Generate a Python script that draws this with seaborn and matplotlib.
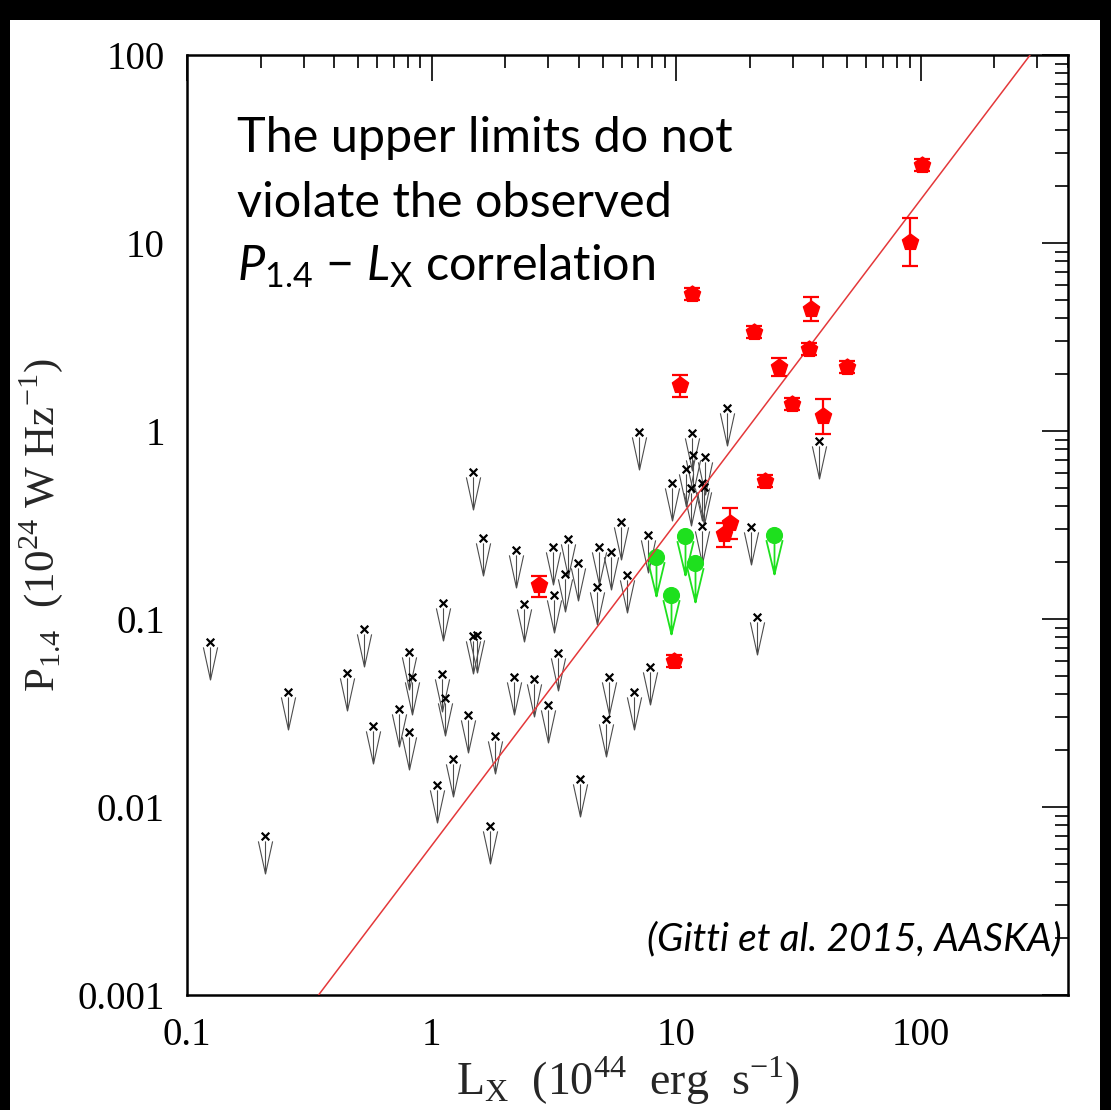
import numpy as np
import matplotlib
matplotlib.use("Agg")
import matplotlib.pyplot as plt
import seaborn as sns
from matplotlib.path import Path
from matplotlib.patches import Rectangle
from matplotlib.ticker import LogLocator, FuncFormatter, NullFormatter

# --- data ------------------------------------------------------------------
# black upper limits (L_X in 1e44 erg/s, P_1.4 in 1e24 W/Hz)
ul_lx = [0.124, 0.209, 0.259, 0.451, 0.528, 0.575, 0.734, 0.807, 0.829, 0.807,
         1.10, 1.11, 1.13, 1.05, 1.22, 1.41, 1.47, 1.53, 1.47, 1.62,
         1.73, 1.81, 2.17, 2.21, 2.38, 2.62, 2.99, 3.13, 3.16, 3.28,
         3.51, 3.61, 3.96, 4.04, 4.74, 4.83, 5.15, 5.31, 5.40, 5.94,
         6.28, 6.71, 7.03, 7.65, 7.80, 9.59, 11.0, 11.5, 11.6, 11.7,
         12.7, 12.7, 13.0, 13.1, 16.1, 20.2, 21.5, 38.3]
ul_p = [0.0755, 0.0070, 0.0409, 0.0516, 0.0885, 0.0270, 0.0332, 0.0667, 0.0491, 0.0251,
        0.0510, 0.122, 0.0380, 0.0131, 0.0180, 0.0308, 0.0812, 0.0822, 0.605, 0.270,
        0.0079, 0.0239, 0.0491, 0.233, 0.120, 0.0480, 0.0349, 0.241, 0.134, 0.0659,
        0.173, 0.267, 0.199, 0.0141, 0.148, 0.241, 0.0294, 0.0491, 0.227, 0.328,
        0.171, 0.0409, 0.988, 0.280, 0.0555, 0.529, 0.628, 0.498, 0.976, 0.745,
        0.529, 0.313, 0.504, 0.727, 1.32, 0.309, 0.1025, 0.885]

# green upper limits
gr_lx = [8.26, 10.9, 11.9, 9.5, 25.1]
gr_p = [0.214, 0.276, 0.199, 0.134, 0.280]

# red detections with error bars
det_lx = [101, 90.1, 11.6, 20.9, 35.5, 34.8, 26.3, 49.8, 10.4, 29.7,
          39.7, 23.0, 16.6, 15.7, 9.78, 2.75]
det_p = [26.0, 10.1, 5.35, 3.36, 4.45, 2.73, 2.19, 2.19, 1.76, 1.39,
         1.20, 0.542, 0.324, 0.283, 0.0598, 0.152]
det_lo = [24.2, 7.55, 4.95, 3.12, 3.85, 2.54, 1.96, 2.04, 1.52, 1.29,
          0.964, 0.505, 0.267, 0.241, 0.0555, 0.131]
det_hi = [27.9, 13.6, 5.75, 3.62, 5.17, 2.94, 2.44, 2.36, 1.99, 1.50,
          1.48, 0.583, 0.389, 0.324, 0.0645, 0.169]

# correlation line end points
fit_lx = [0.345, 280]
fit_p = [0.001, 100]

GREEN = "#1ee01e"
RED = "#ff0000"


def v_arrow(top, half):
    """Open downward arrow marker, origin at the upper-limit value."""
    verts = [(-half, -top), (0, -1), (half, -top), (0, -top), (0, -1)]
    codes = [Path.MOVETO, Path.LINETO, Path.LINETO, Path.MOVETO, Path.LINETO]
    return Path(verts, codes)


sns.set_theme(style="white")
plt.rcParams["font.family"] = ["Liberation Serif", "DejaVu Serif"]
plt.rcParams["mathtext.fontset"] = "custom"
plt.rcParams["mathtext.rm"] = "Liberation Serif"
plt.rcParams["mathtext.it"] = "Lato:italic"
plt.rcParams["mathtext.sf"] = "Lato"

fig = plt.figure(figsize=(11.11, 11.10), dpi=100, facecolor="black")
fig.add_artist(Rectangle((10 / 1111, 0), 1090 / 1111, 1090 / 1110,
                         transform=fig.transFigure, facecolor="white",
                         edgecolor="none", zorder=-5))
ax = fig.add_axes([187 / 1111, 115 / 1110, 881 / 1111, 940 / 1110])
ax.set_facecolor("white")
ax.set_xscale("log")
ax.set_yscale("log")

# arrows under the upper limits
ax.plot(ul_lx, ul_p, linestyle="none", marker=v_arrow(0.13, 0.19), ms=54,
        mfc="none", mec="0.3", mew=0.8, zorder=2)
ax.plot(gr_lx, gr_p, linestyle="none", marker=v_arrow(0.12, 0.21), ms=56,
        mfc="none", mec=GREEN, mew=1.3, zorder=2)

sns.scatterplot(x=ul_lx, y=ul_p, marker="x", color="black", s=30,
                linewidth=1.6, ax=ax, zorder=3)
sns.scatterplot(x=gr_lx, y=gr_p, marker="o", color=GREEN, edgecolor=GREEN,
                s=130, ax=ax, zorder=4)

sns.lineplot(x=fit_lx, y=fit_p, color="#e4383a", linewidth=1.1, ax=ax, zorder=5)

det_p_arr = np.array(det_p)
yerr = [det_p_arr - np.array(det_lo), np.array(det_hi) - det_p_arr]
ax.errorbar(det_lx, det_p, yerr=yerr, fmt="none", ecolor=RED, elinewidth=1.6,
            capsize=6, capthick=1.6, zorder=6)
sns.scatterplot(x=det_lx, y=det_p, marker="p", color=RED, edgecolor=RED,
                s=150, ax=ax, zorder=7)

ax.set_xlim(0.1, 400)
ax.set_ylim(0.001, 100)

ax.xaxis.set_major_locator(LogLocator(base=10, numticks=10))
ax.yaxis.set_major_locator(LogLocator(base=10, numticks=10))
ax.xaxis.set_minor_locator(LogLocator(base=10, subs=np.arange(2, 10), numticks=20))
ax.yaxis.set_minor_locator(LogLocator(base=10, subs=np.arange(2, 10), numticks=20))
fmt = FuncFormatter(lambda v, _: f"{v:g}")
ax.xaxis.set_major_formatter(fmt)
ax.yaxis.set_major_formatter(fmt)
ax.xaxis.set_minor_formatter(NullFormatter())
ax.yaxis.set_minor_formatter(NullFormatter())

ax.tick_params(which="both", direction="in", top=True, right=True,
               colors="black", width=1.2)
ax.tick_params(which="major", length=19, labelsize=28, pad=16)
ax.tick_params(which="minor", length=9.5)
for sp in ax.spines.values():
    sp.set_color("black")
    sp.set_linewidth(1.8)

ax.set_xlabel(r"L$_{\rm X}$  (10$^{44}$  erg  s$^{-1}$)", fontsize=33, labelpad=0)
ax.set_ylabel(r"P$_{\rm 1.4}$  (10$^{24}$ W Hz$^{-1}$)", fontsize=31, labelpad=9)

# annotation
note_kw = dict(fontsize=35, family="Lato", color="black", va="baseline")
fig.text(237 / 1111, 1 - 152 / 1110, "The upper limits do not", **note_kw)
fig.text(237 / 1111, 1 - 217 / 1110, "violate the observed", **note_kw)
fig.text(237 / 1111, 1 - 280 / 1110,
         "$\\mathit{P}_{\\mathsf{1.4}}$ \u2212 $\\mathit{L}_{\\mathsf{X}}$ correlation",
         **note_kw)
fig.text(1062 / 1111, 1 - 950 / 1110, "(Gitti et al. 2015, AASKA)",
         fontsize=28, family="Lato", style="italic", ha="right", va="baseline",
         color="black")

fig.savefig("out.png", dpi=100, facecolor=fig.get_facecolor())
